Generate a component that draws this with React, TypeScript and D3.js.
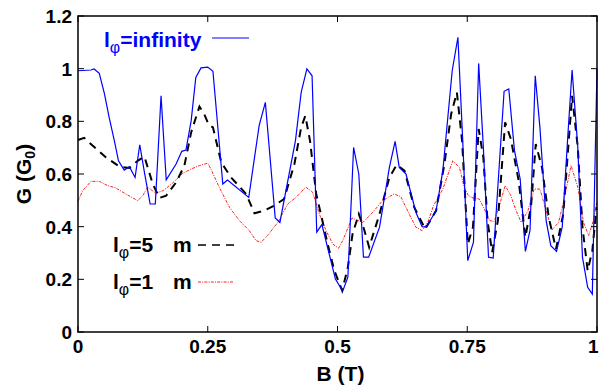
import * as d3 from "d3"

// l_phi = infinity (blue solid)
const blueB = [0, 0.025, 0.031, 0.041, 0.051, 0.06, 0.07, 0.078, 0.089, 0.099, 0.11, 0.119, 0.128, 0.139, 0.149, 0.16, 0.17, 0.189, 0.2, 0.208, 0.218, 0.227, 0.237, 0.25,
  0.26, 0.279, 0.288, 0.329, 0.349, 0.361, 0.38, 0.389, 0.419, 0.43, 0.441, 0.451, 0.46, 0.47, 0.484, 0.496, 0.51, 0.52, 0.531, 0.541, 0.55, 0.56, 0.581, 0.6,
  0.611, 0.619, 0.632, 0.651, 0.663, 0.671, 0.69, 0.703, 0.712, 0.721, 0.732, 0.741, 0.751, 0.762, 0.772, 0.781, 0.791, 0.8, 0.821, 0.83, 0.841, 0.852, 0.862,
  0.871, 0.881, 0.89, 0.902, 0.911, 0.922, 0.933, 0.944, 0.952, 0.963, 0.972, 0.982, 0.991, 1.0]
const blueG = [0.992, 0.995, 0.999, 0.982, 0.904, 0.815, 0.727, 0.65, 0.615, 0.628, 0.587, 0.711, 0.606, 0.486, 0.486, 0.897, 0.578, 0.638, 0.686, 0.691, 0.802, 0.967, 1.003, 1.006,
  0.99, 0.562, 0.577, 0.511, 0.784, 0.872, 0.433, 0.416, 0.727, 0.91, 0.999, 0.973, 0.379, 0.408, 0.296, 0.201, 0.155, 0.208, 0.701, 0.6, 0.284, 0.284, 0.398, 0.625,
  0.724, 0.625, 0.6, 0.455, 0.4, 0.398, 0.461, 0.613, 0.803, 0.992, 1.119, 0.739, 0.271, 0.341, 1.02, 0.701, 0.284, 0.281, 0.914, 0.923, 0.689, 0.581, 0.306,
  0.387, 0.973, 0.777, 0.423, 0.328, 0.306, 0.398, 0.752, 0.995, 0.701, 0.284, 0.17, 0.144, 0.999]

// l_phi = 5 um (black dashed)
const blackB = [0, 0.012, 0.028, 0.054, 0.08, 0.099, 0.115, 0.128, 0.144, 0.157, 0.17, 0.189, 0.205, 0.218, 0.234, 0.243, 0.252, 0.26, 0.276, 0.295, 0.324, 0.34, 0.359,
  0.378, 0.397, 0.417, 0.43, 0.438, 0.447, 0.459, 0.468, 0.481, 0.494, 0.509, 0.52, 0.529, 0.541, 0.55, 0.561, 0.581, 0.6, 0.614, 0.629, 0.648, 0.669, 0.69, 0.706,
  0.719, 0.73, 0.74, 0.751, 0.761, 0.772, 0.781, 0.789, 0.798, 0.809, 0.823, 0.834, 0.849, 0.862, 0.873, 0.882, 0.894, 0.907, 0.921, 0.935, 0.952, 0.963, 0.972,
  0.982, 0.991, 0.999]
const blackG = [0.729, 0.737, 0.708, 0.663, 0.628, 0.623, 0.65, 0.666, 0.562, 0.509, 0.518, 0.568, 0.632, 0.758, 0.856, 0.828, 0.787, 0.777, 0.644, 0.587, 0.524, 0.451, 0.461,
  0.48, 0.505, 0.638, 0.777, 0.821, 0.727, 0.524, 0.448, 0.334, 0.233, 0.157, 0.246, 0.372, 0.448, 0.398, 0.322, 0.448, 0.587, 0.635, 0.613, 0.473, 0.391, 0.461, 0.638,
  0.828, 0.91, 0.727, 0.334, 0.398, 0.771, 0.663, 0.423, 0.303, 0.423, 0.796, 0.733, 0.575, 0.36, 0.48, 0.714, 0.625, 0.436, 0.315, 0.448, 0.897, 0.701, 0.398,
  0.233, 0.309, 0.473]

// l_phi = 1 um (red dash-dot)
const redB = [0, 0.009, 0.025, 0.041, 0.057, 0.073, 0.092, 0.115, 0.125, 0.134, 0.15, 0.164, 0.182, 0.202, 0.218, 0.234, 0.25, 0.256, 0.272, 0.292, 0.311, 0.33, 0.343,
  0.353, 0.365, 0.385, 0.404, 0.42, 0.439, 0.452, 0.465, 0.478, 0.491, 0.502, 0.51, 0.528, 0.549, 0.568, 0.587, 0.609, 0.622, 0.638, 0.651, 0.663, 0.674, 0.685,
  0.703, 0.722, 0.735, 0.744, 0.752, 0.761, 0.773, 0.783, 0.793, 0.802, 0.812, 0.823, 0.834, 0.844, 0.854, 0.867, 0.879, 0.89, 0.902, 0.913, 0.926, 0.936, 0.95,
  0.963, 0.974, 0.984, 0.993, 1.0]
const redG = [0.496, 0.537, 0.572, 0.572, 0.556, 0.547, 0.524, 0.499, 0.518, 0.55, 0.527, 0.537, 0.565, 0.603, 0.619, 0.632, 0.641, 0.619, 0.55, 0.473, 0.423, 0.385, 0.347,
  0.341, 0.366, 0.416, 0.486, 0.511, 0.55, 0.531, 0.448, 0.385, 0.334, 0.318, 0.347, 0.433, 0.416, 0.455, 0.499, 0.524, 0.514, 0.448, 0.398, 0.385, 0.416, 0.48,
  0.543, 0.65, 0.625, 0.55, 0.518, 0.509, 0.505, 0.467, 0.423, 0.42, 0.48, 0.556, 0.518, 0.461, 0.416, 0.461, 0.543, 0.543, 0.461, 0.387, 0.416, 0.499, 0.632,
  0.55, 0.416, 0.366, 0.423, 0.496]

const xTicks = [0, 0.25, 0.5, 0.75, 1]
const xTickLabels = ["0", "0.25", "0.5", "0.75", "1"]
const yTicks = [0, 0.2, 0.4, 0.6, 0.8, 1, 1.2]
const yTickLabels = ["0", "0.2", "0.4", "0.6", "0.8", "1", "1.2"]

const W = 599, H = 389
const M = { left: 78, right: 2, top: 16, bottom: 57 }
const FONT = "'Liberation Sans', Arial, Helvetica, sans-serif"

export default function App() {
  const x = d3.scaleLinear().domain([0, 1]).range([M.left, W - M.right])
  const y = d3.scaleLinear().domain([0, 1.2]).range([H - M.bottom, M.top])
  const line = (bs: number[], gs: number[]) =>
    d3.line<number>().x((_, i) => x(bs[i])).y(d => y(d))(gs) || ""
  const [x0, x1] = x.range()
  const [y0, y1] = y.range()
  const tick = 6

  return (
    <div style={{ position: "absolute", left: 0, top: 0 }}>
      <svg width={W} height={H} style={{ display: "block", background: "#fff" }} fontFamily={FONT}>
        {/* series */}
        <path d={line(redB, redG)} fill="none" stroke="#ff2020" strokeWidth={1} strokeDasharray="3,1.2,1,1.2" />
        <path d={line(blackB, blackG)} fill="none" stroke="#000" strokeWidth={2} strokeDasharray="8,6" />
        <path d={line(blueB, blueG)} fill="none" stroke="#0000ff" strokeWidth={1.2} />

        {/* frame + ticks */}
        <rect x={x0} y={y1} width={x1 - x0} height={y0 - y1} fill="none" stroke="#000" strokeWidth={1.5} />
        {xTicks.map(t => (
          <g key={"x" + t}>
            <line x1={x(t)} x2={x(t)} y1={y0} y2={y0 - tick} stroke="#000" />
            <line x1={x(t)} x2={x(t)} y1={y1} y2={y1 + tick} stroke="#000" />
          </g>
        ))}
        {yTicks.map(t => (
          <g key={"y" + t}>
            <line x1={x0} x2={x0 + tick} y1={y(t)} y2={y(t)} stroke="#000" />
            <line x1={x1} x2={x1 - tick} y1={y(t)} y2={y(t)} stroke="#000" />
          </g>
        ))}
        {xTicks.map((t, i) => (
          <text key={"xl" + t} x={i === xTicks.length - 1 ? W - 0.5 : x(t)} y={y0 + 21}
            textAnchor={i === xTicks.length - 1 ? "end" : "middle"} fontSize={19} fontWeight="bold">{xTickLabels[i]}</text>
        ))}
        {yTicks.map((t, i) => (
          <text key={"yl" + t} x={x0 - 6} y={y(t) + 7} textAnchor="end" fontSize={19} fontWeight="bold">{yTickLabels[i]}</text>
        ))}

        {/* axis titles */}
        <text x={(x0 + x1) / 2 + 3} y={381} textAnchor="middle" fontSize={21} fontWeight="bold">B (T)</text>
        <text transform={`translate(31,${(y0 + y1) / 2}) rotate(-90)`} textAnchor="middle" fontSize={21} fontWeight="bold">
          G (G<tspan fontSize={14} dy={4}>0</tspan><tspan dy={-4}>)</tspan>
        </text>

        {/* legend */}
        <text x={104} y={47} fontSize={21} fontWeight="bold" fill="#0000ff">
          l<tspan fontSize={16} dy={6} fontWeight="normal">φ</tspan><tspan dy={-6}>=infinity</tspan>
        </text>
        <line x1={212} x2={249} y1={38} y2={38} stroke="#0000ff" strokeWidth={1.2} />

        <text x={113} y={252} fontSize={21} fontWeight="bold" fill="#000">
          l<tspan fontSize={16} dy={6} fontWeight="normal">φ</tspan><tspan dy={-6}>=5</tspan><tspan x={173}>m</tspan>
        </text>
        <line x1={198} x2={236} y1={245} y2={245} stroke="#000" strokeWidth={1.5} strokeDasharray="8,6" />

        <text x={113} y={289} fontSize={21} fontWeight="bold" fill="#000">
          l<tspan fontSize={16} dy={6} fontWeight="normal">φ</tspan><tspan dy={-6}>=1</tspan><tspan x={173}>m</tspan>
        </text>
        <line x1={198} x2={234} y1={282} y2={282} stroke="#ff2020" strokeWidth={1} strokeDasharray="3,1.2,1,1.2" />
      </svg>
    </div>
  )
}
